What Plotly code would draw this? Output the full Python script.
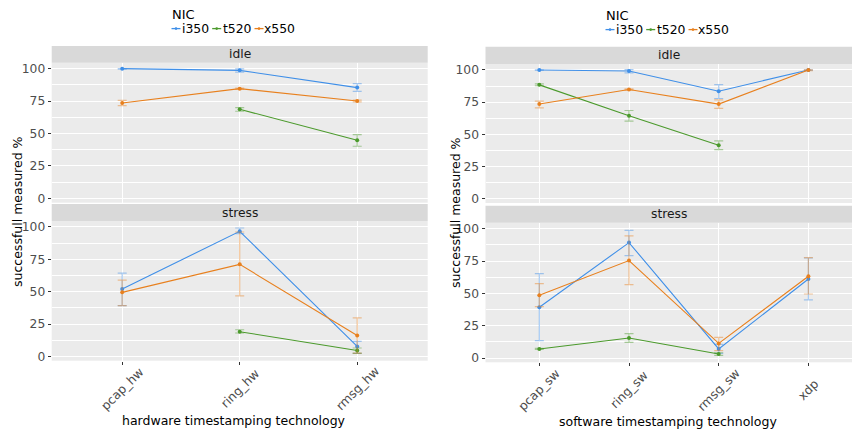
import plotly.graph_objects as go

nics = ["i350", "t520", "x550"]
colors = {"i350": "#3F8FE8", "t520": "#4B9A2C", "x550": "#E8801E"}
err_colors = {"i350": "rgba(63,143,232,0.45)", "t520": "rgba(75,154,44,0.45)", "x550": "rgba(232,128,30,0.45)"}

hw_cats = ["pcap_hw", "ring_hw", "rmsg_hw"]
sw_cats = ["pcap_sw", "ring_sw", "rmsg_sw", "xdp"]

# hardware, idle: mean, lower, upper
hw_idle_mean = {"i350": [100.0, 98.7, 85.4], "t520": [None, 68.7, 44.8], "x550": [73.5, 84.6, 75.1]}
hw_idle_lo = {"i350": [99.6, 97.4, 82.5], "t520": [None, 67.2, 40.2], "x550": [71.5, 84.1, 74.4]}
hw_idle_hi = {"i350": [100.0, 99.8, 88.5], "t520": [None, 70.0, 49.2], "x550": [75.6, 85.1, 75.8]}

# hardware, stress
hw_stress_mean = {"i350": [52.1, 96.6, 7.7], "t520": [None, 19.1, 4.6], "x550": [49.5, 71.1, 16.2]}
hw_stress_lo = {"i350": [39.2, 94.8, 2.3], "t520": [None, 18.1, 2.3], "x550": [39.2, 46.7, 2.5]}
hw_stress_hi = {"i350": [64.4, 99.2, 11.6], "t520": [None, 20.6, 6.5], "x550": [59.0, 96.1, 29.7]}

# software, idle
sw_idle_mean = {"i350": [100.0, 99.2, 83.5, 100.0], "t520": [88.4, 64.4, 41.5, None], "x550": [73.5, 84.8, 73.5, 100.0]}
sw_idle_lo = {"i350": [99.6, 97.7, 77.8, 99.6], "t520": [87.7, 60.3, 38.1, None], "x550": [70.6, 84.3, 70.1, 99.5]}
sw_idle_hi = {"i350": [100.0, 100.2, 88.6, 100.0], "t520": [89.1, 68.5, 44.9, None], "x550": [75.8, 85.3, 76.8, 100.0]}

# software, stress
sw_stress_mean = {"i350": [39.2, 89.2, 7.0, 61.1], "t520": [7.0, 15.5, 3.1, None], "x550": [48.5, 75.3, 11.3, 63.2]}
sw_stress_lo = {"i350": [13.4, 79.1, 3.6, 44.9], "t520": [6.6, 12.1, 2.1, None], "x550": [39.7, 56.7, 5.7, 49.5]}
sw_stress_hi = {"i350": [65.2, 98.7, 10.6, 77.3], "t520": [7.4, 18.8, 4.1, None], "x550": [57.5, 94.4, 16.0, 77.6]}

W, H = 852, 430
def px_x(v): return v / W
def px_y(v): return 1 - v / H

fig = go.Figure()

panels = [
    ("", hw_cats, hw_idle_mean, hw_idle_lo, hw_idle_hi),
    ("2", hw_cats, hw_stress_mean, hw_stress_lo, hw_stress_hi),
    ("3", sw_cats, sw_idle_mean, sw_idle_lo, sw_idle_hi),
    ("4", sw_cats, sw_stress_mean, sw_stress_lo, sw_stress_hi),
]

for suf, cats, mean, lo, hi in panels:
    for nic in nics:
        m = mean[nic]
        up = [None if v is None else h - v for v, h in zip(m, hi[nic])]
        dn = [None if v is None else v - l for v, l in zip(m, lo[nic])]
        fig.add_trace(go.Scatter(
            x=cats, y=m, mode="lines+markers", name=nic,
            line=dict(color=colors[nic], width=1.1),
            marker=dict(color=colors[nic], size=4),
            error_y=dict(type="data", symmetric=False, array=up, arrayminus=dn,
                         color=err_colors[nic], thickness=1.2, width=4.5),
            xaxis="x" + suf, yaxis="y" + suf, showlegend=False,
        ))

tickfont = dict(family="DejaVu Sans", size=12.3, color="#4D4D4D")
yax = dict(range=[-3.3, 104.6], tickvals=[0, 25, 50, 75, 100], showgrid=True,
           gridcolor="white", gridwidth=1.1, zeroline=False, ticks="outside",
           ticklen=3, tickcolor="#333333", tickfont=tickfont, showline=False, automargin=False,
           minor=dict(tickvals=[12.5, 37.5, 62.5, 87.5], showgrid=True, gridcolor="white", gridwidth=0.5, ticks=""))
xax = dict(showgrid=True, gridcolor="white", gridwidth=1.1, zeroline=False, showline=False, automargin=False,
           ticks="outside", ticklen=3, tickcolor="#333333", showticklabels=False)

Lx = [px_x(51.7), px_x(427.7)]
Rx = [px_x(485.5), 1.0]
fig.update_layout(
    width=W, height=H, margin=dict(l=0, r=0, t=0, b=0, autoexpand=False),
    paper_bgcolor="white", plot_bgcolor="#EBEBEB", showlegend=False,
    font=dict(family="DejaVu Sans", size=12, color="black"),
    xaxis=dict(xax, domain=Lx, anchor="y", range=[-0.6, 2.6], categoryorder="array", categoryarray=hw_cats, ticks=""),
    yaxis=dict(yax, domain=[px_y(202.7), px_y(62.7)], anchor="x"),
    xaxis2=dict(xax, domain=Lx, anchor="y2", range=[-0.6, 2.6], categoryorder="array", categoryarray=hw_cats),
    yaxis2=dict(yax, domain=[px_y(360.7), px_y(221)], anchor="x2"),
    xaxis3=dict(xax, domain=Rx, anchor="y3", range=[-0.6, 3.486], categoryorder="array", categoryarray=sw_cats, ticks=""),
    yaxis3=dict(yax, domain=[px_y(203), px_y(64)], anchor="x3"),
    xaxis4=dict(xax, domain=Rx, anchor="y4", range=[-0.6, 3.486], categoryorder="array", categoryarray=sw_cats),
    yaxis4=dict(yax, domain=[px_y(362.3), px_y(222.7)], anchor="x4"),
)

# x tick labels, rotated 45 degrees and centred under each category tick (ggplot style)
for xref, cats, ycen in [("x2", hw_cats, 388.5), ("x4", sw_cats, 390.0)]:
    for c in cats:
        fig.add_annotation(xref=xref, yref="paper", x=c, y=px_y(ycen), text=c, textangle=-45,
                           showarrow=False, font=tickfont, xanchor="center", yanchor="middle", borderpad=0)

# facet strips
strips = [(Lx, 46, 62.7, "idle"), (Lx, 204, 221, "stress"), (Rx, 46.7, 64, "idle"), (Rx, 205.7, 222.7, "stress")]
for xd, t, b, label in strips:
    fig.add_shape(type="rect", xref="paper", yref="paper", x0=xd[0], x1=xd[1], y0=px_y(b), y1=px_y(t),
                  fillcolor="#D9D9D9", line=dict(width=0), layer="below")
    fig.add_annotation(xref="paper", yref="paper", x=(xd[0] + xd[1]) / 2, y=px_y((t + b) / 2),
                       text=label, showarrow=False, font=dict(size=12.3, color="#1A1A1A"),
                       xanchor="center", yanchor="middle")

# legends (ggplot-style compact keys), one per chart
key_off = [0, 40.7, 83.0]
text_off = [10.2, 51.2, 92.8]
for x0, ytitle, yitem in [(171.5, 15.0, 28.6), (605.5, 15.4, 29.6)]:
    fig.add_annotation(xref="paper", yref="paper", x=px_x(x0 - 1), y=px_y(ytitle), text="NIC", borderpad=0,
                       xanchor="left", yanchor="middle", showarrow=False, font=dict(size=13, color="black"))
    for nic, ko, to in zip(nics, key_off, text_off):
        fig.add_shape(type="line", xref="paper", yref="paper", x0=px_x(x0 + ko), x1=px_x(x0 + ko + 9),
                      y0=px_y(yitem), y1=px_y(yitem), line=dict(color=colors[nic], width=1.3))
        fig.add_shape(type="circle", xref="paper", yref="paper", x0=px_x(x0 + ko + 3.2), x1=px_x(x0 + ko + 5.8),
                      y0=px_y(yitem + 1.3), y1=px_y(yitem - 1.3), fillcolor=colors[nic], line=dict(width=0))
        fig.add_annotation(xref="paper", yref="paper", x=px_x(x0 + to - 1), y=px_y(yitem), text=nic, borderpad=0,
                           xanchor="left", yanchor="middle", showarrow=False, font=dict(size=12.4, color="black"))

# axis titles
title_font = dict(size=12.5, color="black")
fig.add_annotation(xref="paper", yref="paper", x=px_x(17), y=px_y(212), text="successfull measured %",
                   textangle=-90, showarrow=False, font=title_font, xanchor="center", yanchor="middle")
fig.add_annotation(xref="paper", yref="paper", x=px_x(455), y=px_y(213), text="successfull measured %",
                   textangle=-90, showarrow=False, font=title_font, xanchor="center", yanchor="middle")
fig.add_annotation(xref="paper", yref="paper", x=px_x(234), y=px_y(420), text="hardware timestamping technology",
                   showarrow=False, font=title_font, xanchor="center", yanchor="middle")
fig.add_annotation(xref="paper", yref="paper", x=px_x(668), y=px_y(421), text="software timestamping technology",
                   showarrow=False, font=title_font, xanchor="center", yanchor="middle")

fig.write_html("out.html", config={"displayModeBar": False},
               post_script="document.body.style.margin='0px';document.body.style.padding='0px';")
